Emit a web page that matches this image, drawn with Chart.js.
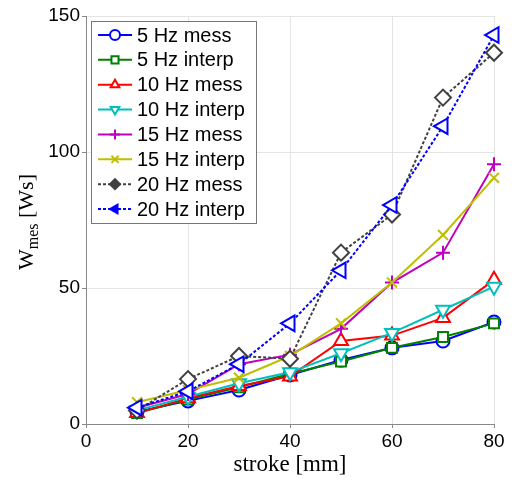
<!DOCTYPE html>
<html>
<head>
<meta charset="utf-8">
<script src="https://cdn.jsdelivr.net/npm/chart.js@4/dist/chart.umd.min.js"></script>
<style>
  html, body { margin: 0; padding: 0; background: #fff; }
</style>
</head>
<body>
<canvas id="c" width="520" height="480"></canvas>
<script>
// Stroke positions [mm]
const strokes = [10, 20, 30, 40, 50, 60, 70, 80];

// Energy per stroke W_mes [Ws], measured vs interpolated, per frequency
const mess5    = [4.5, 8.5, 12.5, 18, 23.5, 28, 30.5, 37.5];
const interp5  = [4, 9, 13.5, 18.5, 23, 28, 32, 37];
const mess10   = [4, 9.5, 14, 17.5, 30.5, 32.5, 39, 53];
const interp10 = [5, 10, 15, 19, 26, 33.5, 42, 50.5];
const mess15   = [6, 11, 22, 25.5, 35, 52, 63, 95.5];
const interp15 = [8, 12.5, 17, 25, 37, 52, 69.5, 90.5];
const mess20   = [5, 16.5, 25, 24, 63, 77, 120, 136.5];
const interp20 = [6, 12, 22, 37, 56.5, 80.5, 109.5, 143];

const seriesLabels = ['5 Hz mess', '5 Hz interp', '10 Hz mess', '10 Hz interp',
                      '15 Hz mess', '15 Hz interp', '20 Hz mess', '20 Hz interp'];
const xTicks = [0, 20, 40, 60, 80];
const yTicks = [0, 50, 100, 150];

const styles = [
  { color: '#0000ff', style: 'circle',   rot: 0,   r: 6.5, dash: [] },
  { color: '#008000', style: 'rect',     rot: 0,   r: 7,   dash: [] },
  { color: '#ff0000', style: 'triangle', rot: 0,   r: 8,   dash: [] },
  { color: '#00bfbf', style: 'triangle', rot: 180, r: 8,   dash: [] },
  { color: '#bf00bf', style: 'cross',    rot: 0,   r: 7,   dash: [] },
  { color: '#bfbf00', style: 'crossRot', rot: 0,   r: 7,   dash: [] },
  { color: '#404040', style: 'rectRot',  rot: 0,   r: 8,   dash: [3, 2], legendFill: true },
  { color: '#0000ff', style: 'triangle', rot: 270, r: 9,   dash: [3, 2], legendFill: true }
];
const seriesData = [mess5, interp5, mess10, interp10, mess15, interp15, mess20, interp20];

const datasets = seriesData.map((vals, i) => ({
  label: seriesLabels[i],
  data: strokes.map((s, k) => ({ x: s, y: vals[k] })),
  borderColor: styles[i].color,
  backgroundColor: styles[i].color,
  borderWidth: 2,
  borderDash: styles[i].dash,
  pointStyle: styles[i].style,
  pointRotation: styles[i].rot,
  pointRadius: styles[i].r,
  pointBorderWidth: 2,
  pointBorderColor: styles[i].color,
  pointBackgroundColor: '#ffffff',
  tension: 0,
  clip: false,
  order: seriesData.length - 1 - i
}));

// Axis titles (with subscript) and a line+marker legend box
const decorations = {
  id: 'decorations',
  afterDraw(chart) {
    const ctx = chart.ctx;
    const area = chart.chartArea;
    ctx.save();

    // x-axis title
    ctx.fillStyle = '#000';
    ctx.font = '23px "Liberation Serif", "Times New Roman", serif';
    ctx.textAlign = 'center';
    ctx.textBaseline = 'alphabetic';
    ctx.fillText('stroke [mm]', (area.left + area.right) / 2, 471);

    // y-axis title: W with subscript "mes", then [Ws]
    ctx.save();
    ctx.translate(33, 222);
    ctx.rotate(-Math.PI / 2);
    const big = '22px "Liberation Serif", "Times New Roman", serif';
    const small = '16px "Liberation Serif", "Times New Roman", serif';
    ctx.font = big;
    const wW = ctx.measureText('W').width;
    const wRest = ctx.measureText(' [Ws]').width;
    ctx.font = small;
    const wSub = ctx.measureText('mes').width;
    let x = -(wW + wSub + wRest) / 2;
    ctx.textAlign = 'left';
    ctx.font = big;
    ctx.fillText('W', x, 0);
    x += wW;
    ctx.font = small;
    ctx.fillText('mes', x, 5);
    x += wSub;
    ctx.font = big;
    ctx.fillText(' [Ws]', x, 0);
    ctx.restore();

    // legend
    const bx = 91, by = 21, bw = 165, bh = 202;
    ctx.fillStyle = '#ffffff';
    ctx.fillRect(bx, by, bw, bh);
    ctx.strokeStyle = '#777';
    ctx.lineWidth = 1;
    ctx.setLineDash([]);
    ctx.strokeRect(bx + 0.5, by + 0.5, bw, bh);

    ctx.font = '20px "Liberation Sans", Arial, sans-serif';
    ctx.textBaseline = 'middle';
    ctx.textAlign = 'left';
    seriesLabels.forEach((lab, i) => {
      const st = styles[i];
      const y = 35 + i * 24.86;
      ctx.strokeStyle = st.color;
      ctx.lineWidth = 2;
      ctx.setLineDash(st.dash);
      ctx.beginPath();
      ctx.moveTo(98, y);
      ctx.lineTo(132, y);
      ctx.stroke();
      ctx.setLineDash([]);
      ctx.fillStyle = st.legendFill ? st.color : '#ffffff';
      ctx.strokeStyle = st.color;
      ctx.lineWidth = 2;
      Chart.helpers.drawPoint(ctx, {
        pointStyle: st.style, rotation: st.rot, radius: 5, borderWidth: 2
      }, 115, y);
      ctx.fillStyle = '#000';
      ctx.fillText(lab, 137, y + 1);
    });
    ctx.restore();
  }
};

new Chart(document.getElementById('c'), {
  type: 'line',
  data: { datasets },
  options: {
    responsive: false,
    animation: false,
    layout: { padding: { left: 0, top: 16, right: 26, bottom: 0 } },
    plugins: { legend: { display: false }, tooltip: { enabled: false } },
    scales: {
      x: {
        type: 'linear',
        min: 0, max: 80,
        afterFit(scale) { scale.height = 56; },
        afterBuildTicks(scale) { scale.ticks = xTicks.map(v => ({ value: v })); },
        ticks: {
          color: '#000',
          font: { family: '"Liberation Sans", Arial, sans-serif', size: 19 },
          padding: 2,
          maxRotation: 0
        },
        grid: {
          color: '#e4e4e4', borderDash: [2, 2], lineWidth: 1,
          drawTicks: true, tickLength: 4, tickColor: '#888', tickBorderDash: []
        },
        border: { display: true, color: '#888', width: 1 }
      },
      y: {
        type: 'linear',
        min: 0, max: 150,
        afterFit(scale) { scale.width = 86; },
        afterBuildTicks(scale) { scale.ticks = yTicks.map(v => ({ value: v })); },
        ticks: {
          color: '#000',
          font: { family: '"Liberation Sans", Arial, sans-serif', size: 19 },
          padding: 2
        },
        grid: {
          color: '#e4e4e4', borderDash: [2, 2], lineWidth: 1,
          drawTicks: true, tickLength: 4, tickColor: '#888', tickBorderDash: []
        },
        border: { display: true, color: '#888', width: 1 }
      }
    }
  },
  plugins: [decorations]
});
</script>
</body>
</html>
